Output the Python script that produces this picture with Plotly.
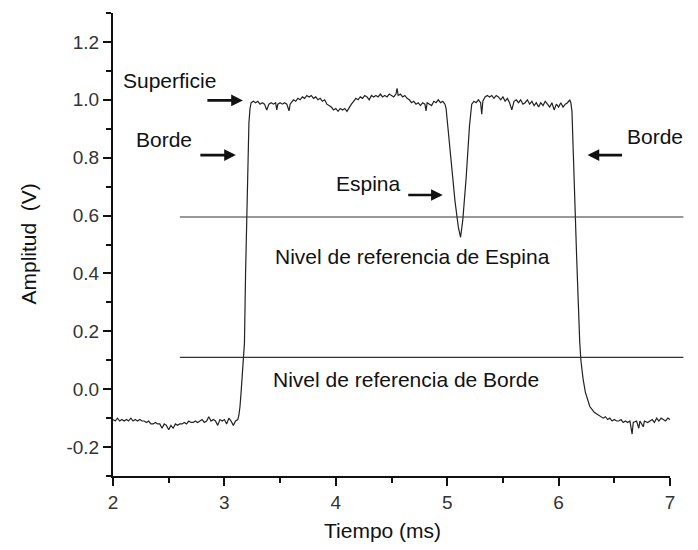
import plotly.graph_objects as go

# ---------------- data ----------------
time_ms = [
    2.00, 2.02, 2.04, 2.06, 2.08, 2.10, 2.12, 2.14, 2.16, 2.18, 2.20, 2.22, 2.24, 2.26, 2.28,
    2.30, 2.32, 2.34, 2.36, 2.38, 2.40, 2.42, 2.44, 2.46, 2.48, 2.50, 2.52, 2.54, 2.56, 2.58,
    2.60, 2.62, 2.64, 2.66, 2.68, 2.70, 2.72, 2.74, 2.76, 2.78, 2.80, 2.82, 2.84, 2.86, 2.88,
    2.90, 2.92, 2.94, 2.96, 2.98, 3.00, 3.02, 3.04, 3.06, 3.08, 3.10, 3.12,
    3.13, 3.14, 3.15, 3.16, 3.17, 3.18, 3.19, 3.20, 3.21, 3.22, 3.23,
    3.24, 3.26, 3.28, 3.30, 3.32, 3.34, 3.36, 3.38, 3.40, 3.42, 3.44, 3.46, 3.47, 3.48, 3.50,
    3.52, 3.54, 3.56, 3.58, 3.59, 3.60, 3.62, 3.64, 3.66, 3.68, 3.70, 3.72, 3.74, 3.76, 3.78,
    3.80, 3.82, 3.84, 3.86, 3.88, 3.90, 3.92, 3.94, 3.96, 3.98, 4.00, 4.02, 4.04, 4.06, 4.08,
    4.10, 4.12, 4.14, 4.16, 4.18, 4.20, 4.22, 4.24, 4.26, 4.28, 4.30, 4.32, 4.34, 4.36, 4.38,
    4.40, 4.42, 4.44, 4.46, 4.48, 4.50, 4.52, 4.54, 4.55, 4.56, 4.58, 4.60, 4.62, 4.64, 4.66,
    4.68, 4.70, 4.72, 4.74, 4.76, 4.78, 4.80, 4.81, 4.82, 4.84, 4.86, 4.88, 4.90, 4.92, 4.94,
    4.96, 4.98,
    4.99, 5.01, 5.04, 5.07, 5.10, 5.12, 5.14, 5.17, 5.20,
    5.22, 5.24, 5.26, 5.28, 5.30, 5.31, 5.32, 5.34, 5.36, 5.38, 5.40, 5.42, 5.44, 5.46, 5.48,
    5.50, 5.52, 5.54, 5.56, 5.58, 5.60, 5.62, 5.64, 5.66, 5.68, 5.70, 5.72, 5.74, 5.76, 5.78,
    5.80, 5.82, 5.84, 5.86, 5.88, 5.90, 5.92, 5.94, 5.96, 5.98, 6.00, 6.02, 6.04, 6.06, 6.08,
    6.10, 6.11,
    6.12, 6.13, 6.14, 6.15, 6.16, 6.17, 6.18, 6.19, 6.20, 6.21, 6.22, 6.24, 6.26, 6.28, 6.30,
    6.32, 6.34, 6.36, 6.38, 6.40,
    6.42, 6.44, 6.46, 6.48, 6.50, 6.52, 6.54, 6.56, 6.58, 6.60, 6.62, 6.64, 6.66, 6.67, 6.70,
    6.72, 6.73, 6.76, 6.77, 6.80, 6.82, 6.84, 6.86, 6.88, 6.90, 6.92, 6.94, 6.96, 6.98, 7.00,
]

amplitude_v = [
    -0.105, -0.110, -0.100, -0.110, -0.105, -0.110, -0.105, -0.110, -0.100, -0.110, -0.105, -0.110, -0.105, -0.110, -0.110,
    -0.115, -0.110, -0.120, -0.120, -0.115, -0.120, -0.120, -0.135, -0.120, -0.125, -0.140, -0.125, -0.135, -0.120, -0.125,
    -0.120, -0.120, -0.115, -0.120, -0.110, -0.115, -0.115, -0.110, -0.115, -0.110, -0.105, -0.115, -0.110, -0.095, -0.110,
    -0.105, -0.110, -0.125, -0.105, -0.110, -0.105, -0.120, -0.100, -0.110, -0.125, -0.110, -0.105,
    -0.090, -0.060, -0.010, 0.040, 0.090, 0.160, 0.400, 0.620, 0.800, 0.920, 0.970,
    0.990, 0.995, 0.990, 0.995, 0.985, 0.990, 0.985, 0.965, 0.985, 0.990, 0.985, 0.990, 0.965, 0.985, 0.990,
    0.985, 0.990, 0.985, 0.962, 0.985, 0.990, 1.000, 0.995, 1.005, 1.000, 1.010, 1.005, 1.015, 1.010, 1.015,
    1.005, 1.010, 1.000, 1.005, 0.995, 1.000, 0.985, 0.980, 0.975, 0.965, 0.970, 0.960, 0.970, 0.965, 0.970,
    0.960, 0.975, 0.985, 0.995, 1.005, 1.000, 1.010, 1.005, 1.015, 1.010, 1.000, 1.015, 1.010, 1.015, 1.010,
    1.020, 1.010, 1.015, 1.010, 1.020, 1.015, 1.010, 1.020, 1.040, 1.015, 1.020, 1.010, 1.015, 1.005, 1.000,
    0.990, 0.995, 0.985, 0.990, 0.980, 0.990, 0.985, 0.962, 0.990, 0.985, 0.980, 0.995, 0.990, 1.000, 0.990,
    0.995, 0.985,
    0.970, 0.890, 0.790, 0.650, 0.560, 0.525, 0.585, 0.730, 0.910,
    0.985, 0.995, 0.990, 1.000, 0.990, 0.950, 0.995, 1.010, 1.015, 1.010, 1.015, 1.005, 1.015, 1.010, 1.000,
    1.010, 0.995, 1.005, 0.990, 0.965, 0.995, 1.000, 0.990, 1.000, 0.985, 0.990, 1.000, 0.985, 0.995, 0.980,
    0.990, 0.975, 0.990, 0.980, 0.995, 0.985, 0.975, 0.990, 0.965, 0.985, 0.975, 0.990, 0.975, 0.985, 0.990,
    1.000, 0.990,
    0.960, 0.820, 0.700, 0.600, 0.480, 0.370, 0.250, 0.160, 0.100, 0.060, 0.035, -0.010, -0.040, -0.060, -0.070,
    -0.080, -0.085, -0.090, -0.095, -0.100,
    -0.095, -0.105, -0.100, -0.110, -0.105, -0.110, -0.110, -0.105, -0.115, -0.110, -0.115, -0.110, -0.155, -0.115, -0.110,
    -0.135, -0.110, -0.130, -0.110, -0.115, -0.110, -0.105, -0.115, -0.100, -0.110, -0.100, -0.105, -0.110, -0.100, -0.105,
]

reference_levels = [0.595, 0.11]          # Espina, Borde
reference_span = [2.6, 7.12]               # time extent of the reference lines (ms)

x_tick_vals = [2, 3, 4, 5, 6, 7]
x_tick_labels = ["2", "3", "4", "5", "6", "7"]
y_tick_vals = [-0.2, 0.0, 0.2, 0.4, 0.6, 0.8, 1.0, 1.2]
y_tick_labels = ["-0.2", "0.0", "0.2", "0.4", "0.6", "0.8", "1.0", "1.2"]

X_RANGE = [2, 7]
Y_RANGE = [-0.3, 1.3]

FONT = "Liberation Sans, Arial, sans-serif"

fig = go.Figure()
fig.add_trace(go.Scatter(
    x=time_ms, y=amplitude_v, mode="lines",
    line=dict(color="#222222", width=1.2),
    showlegend=False, hoverinfo="skip",
))

# Reference levels: lines drawn in paper coordinates so they may pass the right axis end
def to_paper_x(v):
    return (v - X_RANGE[0]) / (X_RANGE[1] - X_RANGE[0])

def to_paper_y(v):
    return (v - Y_RANGE[0]) / (Y_RANGE[1] - Y_RANGE[0])

for lvl in reference_levels:
    fig.add_shape(
        type="line", xref="paper", yref="paper",
        x0=to_paper_x(reference_span[0]), x1=to_paper_x(reference_span[1]),
        y0=to_paper_y(lvl), y1=to_paper_y(lvl),
        line=dict(color="#333333", width=1.1),
    )

txt = dict(family=FONT, size=21, color="#111111")

# text labels
labels = [
    ("Superficie", 2.508, 1.066),
    ("Borde", 2.457, 0.862),
    ("Espina", 4.291, 0.710),
    ("Borde", 6.861, 0.872),
    ("Nivel de referencia de Espina", 4.686, 0.458),
    ("Nivel de referencia de Borde", 4.632, 0.034),
]
for t, x, y in labels:
    fig.add_annotation(x=x, y=y, xref="x", yref="y", text=t, showarrow=False,
                       font=txt, xanchor="center", yanchor="middle")

# arrows (head position, tail offset in px)
arrows = [
    (3.166, 0.998, -37),
    (3.103, 0.809, -37),
    (4.960, 0.671, -36),
    (6.260, 0.809, 36),
]
for x, y, ax in arrows:
    fig.add_annotation(x=x, y=y, xref="x", yref="y", text="", showarrow=True,
                       ax=ax, ay=0, arrowhead=2, arrowsize=0.9, arrowwidth=2.6,
                       arrowcolor="#111111", standoff=0)

# axis titles
fig.add_annotation(x=0.483, y=-0.117, xref="paper", yref="paper", text="Tiempo (ms)",
                   showarrow=False, font=txt, xanchor="center", yanchor="middle")
fig.add_annotation(x=-0.1526, y=0.5, xref="paper", yref="paper", text="Amplitud\u00a0\u00a0(V)",
                   showarrow=False, font=txt, xanchor="center", yanchor="middle", textangle=-90)

axis_common = dict(
    showline=True, linecolor="#111111", linewidth=2, mirror=False,
    showgrid=False, zeroline=False,
    ticks="outside", ticklen=8, tickwidth=2, tickcolor="#111111",
    tickfont=dict(family=FONT, size=19, color="#333333"),
)
fig.update_xaxes(range=X_RANGE, tickmode="array", tickvals=x_tick_vals, ticktext=x_tick_labels,
                 minor=dict(ticks="outside", ticklen=5, tickwidth=2, tickcolor="#111111", dtick=0.5, tick0=2),
                 **axis_common)
fig.update_yaxes(range=Y_RANGE, tickmode="array", tickvals=y_tick_vals, ticktext=y_tick_labels,
                 minor=dict(ticks="outside", ticklen=5, tickwidth=2, tickcolor="#111111", dtick=0.1, tick0=-0.3),
                 **axis_common)

fig.update_layout(
    width=698, height=550,
    margin=dict(l=113, r=28, t=13, b=74, pad=0),
    paper_bgcolor="white", plot_bgcolor="white",
    font=dict(family=FONT),
)

fig.write_html("out.html")
